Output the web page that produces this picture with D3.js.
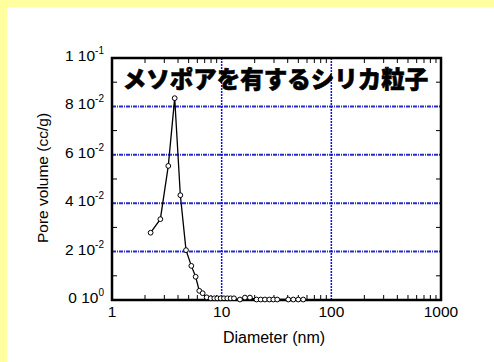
<!DOCTYPE html>
<html>
<head>
<meta charset="utf-8">
<title>Pore size distribution</title>
<style>
    body { margin: 0; background: #ffffa0; }
    svg { display: block; }
    text { font-family: "Liberation Sans", Arial, sans-serif; fill: #000; }
    .title { font-family: "Noto Sans CJK JP", sans-serif; font-weight: 900; }
</style>
</head>
<body>
<svg class="chart" width="494" height="362"></svg>
<script src="https://cdn.jsdelivr.net/npm/d3@7"></script>
<script>
    // pore diameter (nm) and volume (cc/g)
    var diameter = [2.25, 2.76, 3.26, 3.73, 4.2, 4.73, 5.29, 5.79, 6.25, 6.71, 7.3,
        7.94, 8.57, 9.12, 9.79, 10.5, 11.25, 12.08, 12.95, 14.68, 16.3, 18.1,
        20.8, 22.7, 24.8, 27.2, 29.6, 32.1, 40.5, 45, 49.9, 55.4];
    var volume = [0.0278, 0.0334, 0.0554, 0.0834, 0.0433, 0.0206, 0.0141, 0.0096, 0.0038, 0.0028, 0.0011,
        0.0007, 0.0007, 0.0007, 0.0007, 0.0007, 0.0007, 0.0007, 0.0007, 0.0002, 0.001, 0.001,
        0.0002, 0.0002, 0.0002, 0.0002, 0.0002, 0.0002, 0.0002, 0.0002, 0.0002, 0.0002];

    var xTicks = [1, 10, 100, 1000];
    var xTickLabels = ["1", "10", "100", "1000"];
    var yTicks = [0, 0.02, 0.04, 0.06, 0.08, 0.1];
    var yTickMant = ["0", "2", "4", "6", "8", "1"];
    var yTickExp = ["0", "-2", "-2", "-2", "-2", "-1"];
    var yMinor = [0.01, 0.03, 0.05, 0.07, 0.09];

    var title = "メソポアを有するシリカ粒子";

    var svg = d3.select(".chart");

    // white card on the yellow page
    svg.append("rect").attr("x", 7).attr("y", 7).attr("width", 487).attr("height", 355).attr("fill", "#fff");

    var pLeft = 112, pRight = 441, pTop = 58, pBottom = 300;
    var x = d3.scaleLog().domain([1, 1000]).range([pLeft, pRight]);
    var y = d3.scaleLinear().domain([0, 0.1]).range([pBottom, pTop]);

    // grid
    var grid = svg.append("g");
    grid.selectAll("line.h").data(yTicks).enter().append("line")
        .attr("x1", pLeft).attr("x2", pRight)
        .attr("y1", function (d) { return y(d); }).attr("y2", function (d) { return y(d); })
        .attr("stroke", "#2a2ad0").attr("stroke-width", 2)
        .attr("stroke-dasharray", "4,1,1,1");
    grid.selectAll("line.v").data(xTicks).enter().append("line")
        .attr("y1", pTop).attr("y2", pBottom)
        .attr("x1", function (d) { return x(d); }).attr("x2", function (d) { return x(d); })
        .attr("stroke", "#1010e0").attr("stroke-width", 1.5)
        .attr("stroke-dasharray", "2,1");

    // minor ticks
    var xMinor = [];
    [1, 10, 100].forEach(function (dec) {
        for (var k = 2; k <= 9; k++) xMinor.push(dec * k);
    });
    var ticks = svg.append("g").attr("stroke", "#000").attr("stroke-width", 1);
    xMinor.forEach(function (v) {
        ticks.append("line").attr("x1", x(v)).attr("x2", x(v)).attr("y1", pBottom).attr("y2", pBottom - 5);
        ticks.append("line").attr("x1", x(v)).attr("x2", x(v)).attr("y1", pTop).attr("y2", pTop + 5);
    });
    yMinor.forEach(function (v) {
        ticks.append("line").attr("x1", pLeft).attr("x2", pLeft + 5).attr("y1", y(v)).attr("y2", y(v));
        ticks.append("line").attr("x1", pRight).attr("x2", pRight - 5).attr("y1", y(v)).attr("y2", y(v));
    });

    // frame
    svg.append("rect").attr("x", pLeft).attr("y", pTop)
        .attr("width", pRight - pLeft).attr("height", pBottom - pTop)
        .attr("fill", "none").attr("stroke", "#000").attr("stroke-width", 2.5);

    // title
    svg.append("text").attr("class", "title")
        .attr("x", (pLeft + pRight) / 2 - 1).attr("y", 88)
        .attr("text-anchor", "middle").attr("font-size", 23.5)
        .attr("stroke", "#000").attr("stroke-width", 0.6)
        .text(title);

    // data
    var pts = diameter.map(function (d, i) { return [d, volume[i]]; });
    var line = d3.line().x(function (d) { return x(d[0]); }).y(function (d) { return y(d[1]); });
    svg.append("path").datum(pts).attr("d", line)
        .attr("fill", "none").attr("stroke", "#000").attr("stroke-width", 1.3);
    svg.selectAll("circle.pt").data(pts).enter().append("circle")
        .attr("cx", function (d) { return x(d[0]); })
        .attr("cy", function (d) { return y(d[1]); })
        .attr("r", 2.4).attr("fill", "#fff").attr("stroke", "#000").attr("stroke-width", 1);

    // y tick labels
    yTicks.forEach(function (v, i) {
        var t = svg.append("text").attr("x", 104).attr("y", y(v) + 3)
            .attr("text-anchor", "end").attr("font-size", 15.5);
        t.append("tspan").text(yTickMant[i] + " 10");
        t.append("tspan").attr("dy", -7).attr("font-size", 10).text(yTickExp[i]);
    });

    // x tick labels
    svg.selectAll("text.xt").data(xTicks).enter().append("text")
        .attr("x", function (d) { return x(d); }).attr("y", 317)
        .attr("text-anchor", "middle").attr("font-size", 15.5)
        .text(function (d, i) { return xTickLabels[i]; });

    // axis titles
    svg.append("text").attr("x", 274).attr("y", 343)
        .attr("text-anchor", "middle").attr("font-size", 16).text("Diameter (nm)");
    svg.append("text").attr("transform", "translate(48,178) rotate(-90)")
        .attr("text-anchor", "middle").attr("font-size", 15.5).text("Pore volume (cc/g)");
</script>
</body>
</html>
